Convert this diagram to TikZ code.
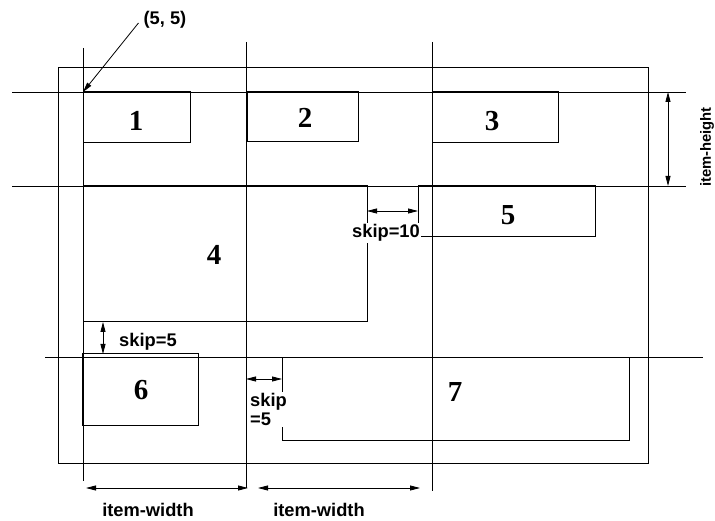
\documentclass[tikz,border=0pt]{standalone}
\usepackage{fontspec}
\setmainfont{Liberation Serif}
\setsansfont{Liberation Sans}
\usetikzlibrary{arrows.meta}
\tikzset{
  grid/.style={line width=0.8pt},
  box/.style={draw, line width=1pt, anchor=north west, inner sep=0pt, outer sep=0pt},
  num/.style={font=\fontsize{29}{29}\selectfont\bfseries},
  lab/.style={font=\sffamily\bfseries\fontsize{18.3}{19}\selectfont, inner sep=1pt},
  dim/.style={{Triangle[length=10pt,width=5pt]}-{Triangle[length=10pt,width=5pt]}, line width=0.8pt},
  arr/.style={-{Triangle[length=10pt,width=5pt]}, line width=0.8pt}
}
\begin{document}
\begin{tikzpicture}[x=1pt,y=-1pt]
\useasboundingbox (0,0) rectangle (715,521);
% frame
\draw[grid] (58,67) rectangle (648,463);
% grid lines
\draw[grid] (83,48) -- (83,481);
\draw[grid] (246,42) -- (246,488);
\draw[grid] (432,42) -- (432,491);
\draw[grid] (12,92) -- (686,92);
\draw[grid] (12,186) -- (686,186);
\draw[grid] (45,357) -- (703,357);
% boxes
\node[box, minimum width=107, minimum height=51] (b1) at (83,92) {};
\node[box, minimum width=111, minimum height=50] (b2) at (247,92) {};
\node[box, minimum width=126, minimum height=51] (b3) at (432,92) {};
\node[box, minimum width=284, minimum height=136] (b4) at (83,186) {};
\node[box, minimum width=177, minimum height=51] (b5) at (418,186) {};
\node[box, minimum width=116, minimum height=71] (b6) at (82,354) {};
\node[box, minimum width=347, minimum height=82] (b7) at (282,358) {};
% numbers
\node[num] (n1) at (136,121) {1};
\node[num] (n2) at (305,118) {2};
\node[num] (n3) at (492,121) {3};
\node[num] (n4) at (214,255) {4};
\node[num] (n5) at (508,215) {5};
\node[num] (n6) at (141,390) {6};
\node[num] (n7) at (455,392) {7};
% (5,5) annotation
\coordinate (c55) at (83,92);
\node[lab] (p55) at (165,20) {(5, 5)};
\draw[arr] ([xshift=-4pt,yshift=-3pt]p55.west) -- (c55);
% item-height
\coordinate (ih1) at (668,92);
\coordinate (ih2) at (668,186);
\draw[dim] (ih1) -- (ih2);
\node[lab, font=\sffamily\bfseries\fontsize{14.8}{16}\selectfont, rotate=90] (tih) at (707,147) {item-height};
% skip=10
\draw[dim] ([yshift=-25pt]b4.north east) -- ([yshift=-25pt]b5.north west);
\node[lab, fill=white] (s10) at (386,233) {skip=10};
% skip=5 vertical
\draw[dim] ([xshift=20pt]b4.south west) -- ([xshift=21pt]b6.north west);
\node[lab, anchor=west] (s5a) at (118,342) {skip=5};
% skip=5 horizontal
\coordinate (g2) at (246,379);
\draw[dim] (g2) -- ([yshift=-21pt]b7.north west);
\node[lab, fill=white, align=left, anchor=north west, font=\sffamily\bfseries\fontsize{18.3}{19}\selectfont] (s5b) at (249,392) {skip\\=5};
% item-width
\coordinate (w1a) at (86,488);
\coordinate (w1b) at (248,488);
\coordinate (w2a) at (258,488);
\coordinate (w2b) at (420,488);
\draw[dim] (w1a) -- (w1b);
\draw[dim] (w2a) -- (w2b);
\node[lab] (iw1) at (148,510) {item-width};
\node[lab] (iw2) at (319,510) {item-width};
\end{tikzpicture}
\end{document}
